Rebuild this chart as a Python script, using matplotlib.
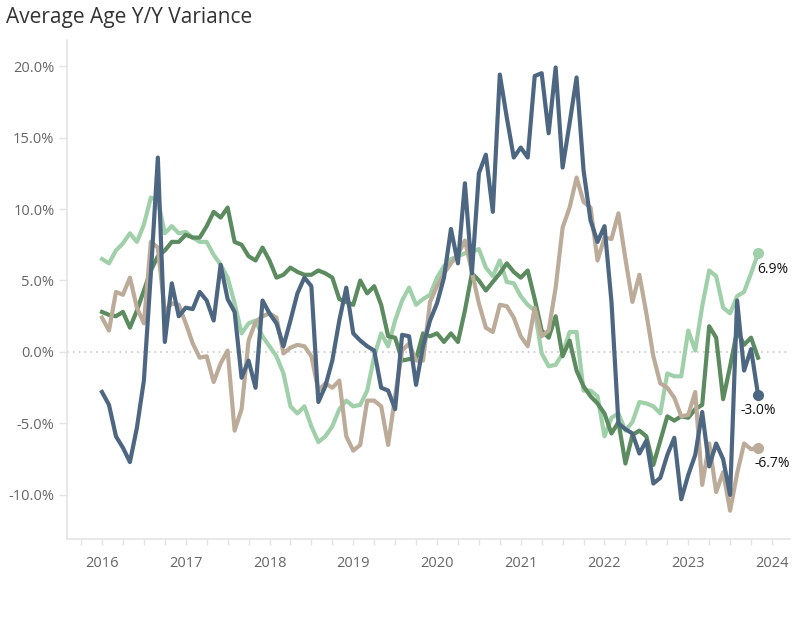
import matplotlib
matplotlib.use("Agg")
import matplotlib.pyplot as plt
import numpy as np

start_year = 2016
title = "Average Age Y/Y Variance"

blue = [-2.8, -3.7, -5.9, -6.7, -7.7, -5.3, -2.0, 5.5, 13.6, 0.7,
        4.8, 2.5, 3.1, 3.0, 4.2, 3.6, 2.2, 6.1, 3.7, 2.8,
        -1.8, -0.6, -2.5, 3.6, 2.7, 2.0, 0.4, 2.2, 4.1, 5.2,
        4.6, -3.5, -2.4, -0.6, 2.2, 4.5, 1.3, 0.8, 0.4, 0.1,
        -2.5, -2.7, -4.0, 1.2, 1.1, -2.3, 0.4, 2.2, 3.4, 5.2,
        8.6, 6.2, 11.8, 5.5, 12.5, 13.8, 9.8, 19.4, 16.4, 13.6,
        14.3, 13.6, 19.3, 19.5, 15.3, 19.9, 12.9, 16.0, 19.2, 12.7,
        9.2, 7.7, 8.8, 3.5, -5.0, -5.4, -5.7, -7.1, -6.2, -9.2,
        -8.8, -7.2, -6.0, -10.3, -8.6, -7.2, -4.2, -8.0, -6.4, -7.5,
        -10.0, 3.6, -1.3, 0.2, -3.0]

dark_green = [2.8, 2.6, 2.5, 2.8, 1.7, 2.9, 4.3, 5.7, 6.7, 7.1,
              7.7, 7.7, 8.2, 8.0, 8.0, 8.8, 9.8, 9.4, 10.1, 7.7,
              7.5, 6.7, 6.4, 7.3, 6.4, 5.2, 5.4, 5.9, 5.6, 5.4,
              5.4, 5.7, 5.5, 5.2, 3.7, 3.5, 3.3, 5.0, 4.1, 4.6,
              3.3, 1.1, 1.0, -0.6, -0.5, -0.5, 1.3, 1.1, 1.3, 0.7,
              1.3, 0.7, 2.9, 5.5, 5.0, 4.3, 4.9, 5.5, 6.2, 5.6,
              5.2, 5.7, 3.7, 1.5, 1.0, 2.5, -0.3, 0.8, -1.3, -2.4,
              -3.1, -3.6, -4.3, -5.7, -4.9, -7.8, -5.8, -5.5, -5.9, -7.9,
              -6.2, -4.5, -4.8, -4.5, -4.6, -4.0, -3.7, 1.8, 1.0, -3.3,
              -1.0, 1.5, 0.5, 1.0, -0.4]

light_green = [6.5, 6.2, 7.1, 7.6, 8.3, 7.7, 8.9, 10.8, 10.6, 8.3,
               8.8, 8.3, 8.4, 8.0, 7.7, 7.7, 6.8, 6.1, 5.2, 3.4,
               1.3, 2.0, 2.2, 1.1, 0.4, -0.3, -1.5, -3.8, -4.3, -3.8,
               -5.2, -6.3, -5.9, -5.2, -4.0, -3.4, -3.8, -3.7, -2.7, -0.3,
               1.3, 0.4, 2.2, 3.6, 4.5, 3.3, 3.7, 4.0, 5.2, 6.0,
               6.5, 6.7, 6.9, 7.0, 7.2, 5.9, 5.3, 6.4, 4.9, 4.8,
               3.9, 3.3, 2.9, -0.1, -1.0, -0.9, -0.1, 1.4, 1.4, -2.7,
               -2.7, -3.1, -5.9, -4.6, -4.3, -5.5, -4.9, -3.5, -3.6, -3.8,
               -4.3, -1.5, -1.7, -1.7, 1.5, 0.1, 3.2, 5.7, 5.3, 3.1,
               2.7, 3.9, 4.2, 5.5, 6.9]

tan = [2.4, 1.5, 4.2, 4.0, 5.2, 3.1, 2.0, 7.7, 7.3, 2.8,
       3.4, 3.3, 2.0, 0.6, -0.4, -0.3, -2.1, -0.8, 0.1, -5.5,
       -4.0, 0.8, 2.1, 2.5, 2.7, 2.4, -0.1, 0.3, 0.5, 0.4,
       -0.3, -2.7, -2.2, -2.5, -2.0, -5.9, -6.9, -6.5, -3.4, -3.4,
       -3.8, -6.5, -3.1, 0.1, 0.6, -0.6, -0.6, 3.5, 4.6, 5.5,
       6.2, 6.8, 7.8, 5.6, 3.4, 1.7, 1.4, 3.3, 3.2, 2.4,
       1.1, 0.4, 3.1, 1.1, 1.5, 4.5, 8.7, 10.1, 12.2, 10.5,
       10.1, 6.4, 8.0, 7.9, 9.7, 6.5, 3.5, 5.4, 2.7, -0.3,
       -2.2, -2.5, -3.2, -4.5, -4.4, -2.8, -9.3, -6.4, -9.8, -8.4,
       -11.1, -8.5, -6.4, -6.8, -6.7]

year_ticks = [2016, 2017, 2018, 2019, 2020, 2021, 2022, 2023, 2024]
y_ticks = [-10, -5, 0, 5, 10, 15, 20]

C_BLUE = "#4d6782"
C_DGREEN = "#5b8b5f"
C_LGREEN = "#9fd0a9"
C_TAN = "#bcab98"

plt.rcParams['font.family'] = ['Open Sans', 'DejaVu Sans']

fig = plt.figure(figsize=(7.99, 6.35), dpi=100)
ax = fig.add_axes([67/799, 1 - 539/635, (790 - 67)/799, (539 - 40)/635])

n = len(blue)
t = start_year + np.arange(n) / 12.0

ax.axhline(0, color="#c8c8c8", lw=1.2, ls=(0, (1, 2.5)), zorder=1)

lw = 3.0
ax.plot(t, light_green, color=C_LGREEN, lw=lw, zorder=3)
ax.plot(t, dark_green, color=C_DGREEN, lw=lw, zorder=4)
ax.plot(t, tan, color=C_TAN, lw=lw, zorder=5)
ax.plot(t, blue, color=C_BLUE, lw=lw, zorder=6)

for series, col in [(light_green, C_LGREEN), (tan, C_TAN), (blue, C_BLUE)]:
    ax.plot([t[-1]], [series[-1]], 'o', color=col, ms=7, zorder=7)

ax.annotate(f"{light_green[-1]:.1f}%", (t[-1], light_green[-1]), xytext=(-1, -16),
            textcoords='offset pixels', ha='left', va='center', fontsize=10, color="#111111")
ax.annotate(f"{blue[-1]:.1f}%", (t[-1], blue[-1]), xytext=(0, -16),
            textcoords='offset pixels', ha='center', va='center', fontsize=10, color="#111111")
ax.annotate(f"{tan[-1]:.1f}%", (t[-1], tan[-1]), xytext=(-4, -16),
            textcoords='offset pixels', ha='left', va='center', fontsize=10, color="#111111")

ax.set_xlim(2015.582, 2024.215)
ax.set_ylim(-13.08, 21.82)

ax.set_xticks(year_ticks)
ax.set_xticklabels([str(y) for y in year_ticks])
ax.set_xticks(np.arange(2015.75, 2024.2, 0.25), minor=True)
ax.set_yticks(y_ticks)
ax.set_yticklabels([f"{v:.1f}%" for v in y_ticks])

for s in ["top", "right"]:
    ax.spines[s].set_visible(False)
for s in ["left", "bottom"]:
    ax.spines[s].set_color("#e4e4e4")
    ax.spines[s].set_linewidth(1.2)

ax.tick_params(axis='x', which='both', direction='out', length=4, width=1, color="#e4e4e4",
               labelsize=10.5, labelcolor="#666666", pad=8)
ax.tick_params(axis='y', which='major', direction='out', length=6, width=1, color="#e4e4e4",
               labelsize=10.5, labelcolor="#666666", pad=3)

fig.text(6/799, 1 - 17/635, title, fontsize=15, color="#333333", ha='left', va='center')

fig.savefig("out.png", dpi=100)
